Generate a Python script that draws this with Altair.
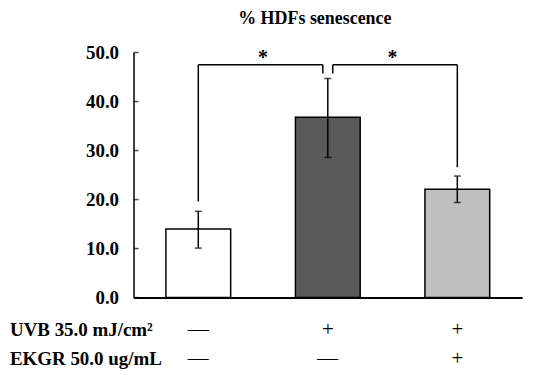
import altair as alt
import pandas as pd

# ---- data ----
groups = ["Control", "UVB", "UVB+EKGR"]
means = [14.0, 36.8, 22.1]
err_lo = [10.1, 28.6, 19.4]
err_hi = [17.6, 44.7, 24.8]
fills = ["#ffffff", "#595959", "#c0c0c0"]
uvb_signs = ["—", "+", "+"]
ekgr_signs = ["—", "—", "+"]
row_labels = ["UVB 35.0 mJ/cm²", "EKGR 50.0 ug/mL"]
y_ticks = [0, 10, 20, 30, 40, 50]
chart_title = "% HDFs senescence"

# significance brackets
bracket_level = 47.5
bracket_from = ["Control", "UVB"]
bracket_to = ["UVB", "UVB+EKGR"]
bracket_from_low = [19.6, 45.7]
bracket_to_low = [45.7, 26.6]
stars = ["*", "*"]

FONT = "Liberation Serif"
W, H = 390, 246

xscale = alt.Scale(domain=groups, paddingInner=0.5, paddingOuter=0.25)
yscale = alt.Scale(domain=[0, 50], nice=False, zero=True)
x_axis = alt.Axis(labels=False, ticks=False, title=None, domain=True,
                  domainColor="black", domainWidth=2, grid=False)
y_axis = alt.Axis(values=y_ticks, format=".1f", ticks=False, title=None,
                  domain=True, domainColor="black", domainWidth=1.5,
                  labelFont=FONT, labelFontSize=19, labelFontWeight="bold",
                  labelColor="black", labelPadding=15, grid=False)


def X(f, **kw):
    return alt.X(f, type="nominal", scale=xscale, axis=x_axis, sort=groups, **kw)


def Y(f):
    return alt.Y(f, type="quantitative", scale=yscale, axis=y_axis)


bars_df = pd.DataFrame({"g": groups, "mean": means, "lo": err_lo, "hi": err_hi,
                        "uvb": uvb_signs, "ekgr": ekgr_signs})
caps_df = pd.DataFrame({"g": groups * 2, "v": err_lo + err_hi})
ticks_df = pd.DataFrame({"v": y_ticks})

bars = alt.Chart(bars_df).mark_bar(stroke="black", strokeWidth=1.5).encode(
    x=X("g"), y=Y("mean"),
    fill=alt.Fill("g:N", scale=alt.Scale(domain=groups, range=fills), legend=None),
)
err = alt.Chart(bars_df).mark_rule(color="black", strokeWidth=1.5).encode(
    x=X("g", bandPosition=0.5), y=Y("lo"), y2="hi")
caps = alt.Chart(caps_df).mark_tick(orient="horizontal", color="black",
                                    size=7, thickness=1.5).encode(
    x=X("g", bandPosition=0.5), y=Y("v"))
ytick_marks = alt.Chart(ticks_df).mark_tick(orient="horizontal", color="black",
                                            size=5, thickness=1.5).encode(
    x=alt.value(2.5), y=Y("v"))

br_h = pd.DataFrame({"a": bracket_from, "b": bracket_to,
                     "y": [bracket_level] * 2})
left_h = alt.Chart(br_h.iloc[[0]]).mark_rule(color="black", strokeWidth=1.5,
                                             x2Offset=-5).encode(
    x=X("a", bandPosition=0.5), x2=alt.X2("b", bandPosition=0.5), y=Y("y"))
right_h = alt.Chart(br_h.iloc[[1]]).mark_rule(color="black", strokeWidth=1.5,
                                              xOffset=5).encode(
    x=X("a", bandPosition=0.5), x2=alt.X2("b", bandPosition=0.5), y=Y("y"))

v_center = pd.DataFrame({"g": [bracket_from[0], bracket_to[1]],
                         "lo": [bracket_from_low[0], bracket_to_low[1]],
                         "hi": [bracket_level] * 2})
v_left = pd.DataFrame({"g": [bracket_to[0]], "lo": [bracket_to_low[0]],
                       "hi": [bracket_level]})
v_right = pd.DataFrame({"g": [bracket_from[1]], "lo": [bracket_from_low[1]],
                        "hi": [bracket_level]})
vc = alt.Chart(v_center).mark_rule(color="black", strokeWidth=1.5).encode(
    x=X("g", bandPosition=0.5), y=Y("lo"), y2="hi")
vl = alt.Chart(v_left).mark_rule(color="black", strokeWidth=1.5, xOffset=-5).encode(
    x=X("g", bandPosition=0.5), y=Y("lo"), y2="hi")
vr = alt.Chart(v_right).mark_rule(color="black", strokeWidth=1.5, xOffset=5).encode(
    x=X("g", bandPosition=0.5), y=Y("lo"), y2="hi")

star_df = pd.DataFrame({"g": bracket_from, "s": stars, "y": [bracket_level] * 2})
star_text = alt.Chart(star_df).mark_text(font=FONT, fontSize=20, fontWeight="bold",
                                         baseline="alphabetic", dx=65, dy=-1,
                                         color="black").encode(
    x=X("g", bandPosition=0.5), y=Y("y"), text="s")

sign_uvb = alt.Chart(bars_df).mark_text(font=FONT, fontSize=21,
                                        baseline="alphabetic", color="black").encode(
    x=X("g", bandPosition=0.5), y=alt.value(285), text="uvb")
sign_ekgr = alt.Chart(bars_df).mark_text(font=FONT, fontSize=21,
                                         baseline="alphabetic", color="black").encode(
    x=X("g", bandPosition=0.5), y=alt.value(314), text="ekgr")

lab_df = pd.DataFrame({"t": row_labels})
lab1 = alt.Chart(lab_df.iloc[[0]]).mark_text(font=FONT, fontSize=19, fontWeight="bold",
                                             baseline="alphabetic", align="left",
                                             color="black").encode(
    x=alt.value(-124), y=alt.value(285), text="t")
lab2 = alt.Chart(lab_df.iloc[[1]]).mark_text(font=FONT, fontSize=19, fontWeight="bold",
                                             baseline="alphabetic", align="left",
                                             color="black").encode(
    x=alt.value(-124), y=alt.value(314), text="t")

title_df = pd.DataFrame({"t": [chart_title]})
title_text = alt.Chart(title_df).mark_text(font=FONT, fontSize=18, fontWeight="bold",
                                           baseline="alphabetic", align="center",
                                           color="black").encode(
    x=alt.value(182), y=alt.value(-29), text="t")

chart = alt.layer(
    bars, err, caps, ytick_marks, left_h, right_h, vc, vl, vr, star_text,
    sign_uvb, sign_ekgr, lab1, lab2, title_text
).properties(
    width=W, height=H,
    autosize=alt.AutoSizeParams(type="none"),
    padding={"left": 126, "top": 44, "right": 20, "bottom": 75},
    background="white",
).configure_view(stroke=None)

chart.save("out.html", embed_options={"renderer": "svg", "actions": False})
